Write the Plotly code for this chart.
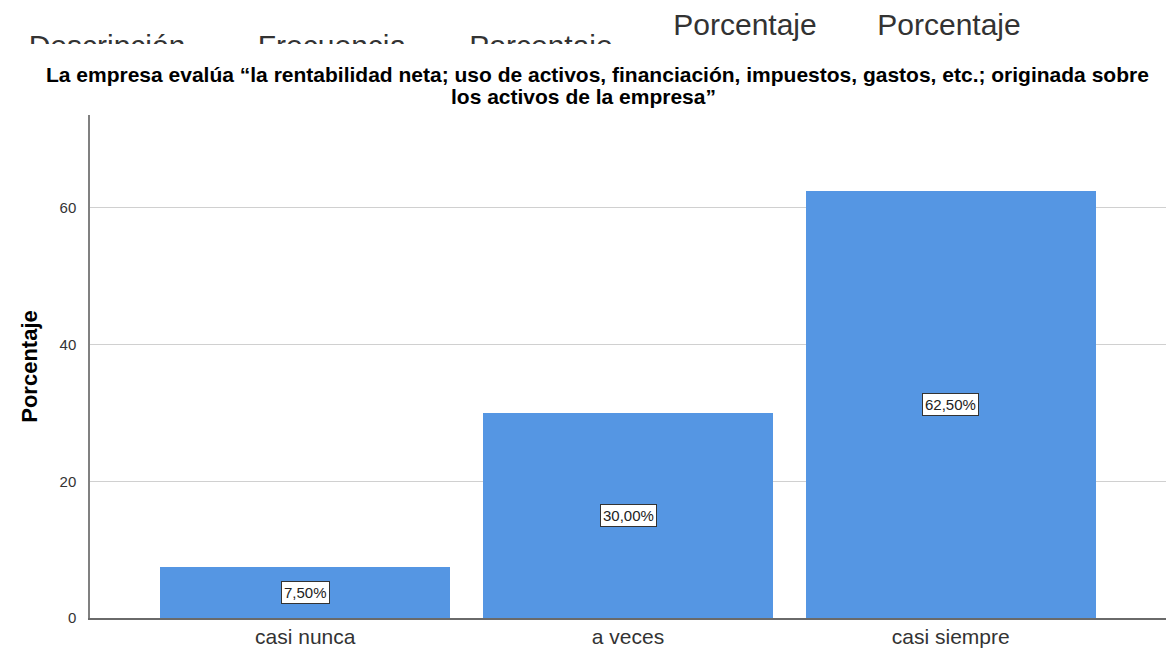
import plotly.graph_objects as go

categories = ["casi nunca", "a veces", "casi siempre"]
values = [7.5, 30.0, 62.5]
value_labels = ["7,50%", "30,00%", "62,50%"]
y_ticks = [0, 20, 40, 60]

header_words = ["Descripción", "Frecuencia", "Porcentaje", "Porcentaje", "Porcentaje"]
header_x = [107, 332, 541, 745, 949]
header_y = [48, 48, 48, 27, 27]

title_lines = [
    "La empresa evalúa “la rentabilidad neta; uso de activos, financiación, impuestos, gastos, etc.; originada sobre",
    "los activos de la empresa”",
]
title_x = [597, 583]
title_y = [75, 97]

W, H = 1168, 649
ml, mr, mt, mb = 0, 2, 0, 31
PW = W - ml - mr
PH = H - mt - mb
axis_left = 90
plot_top = 115

FONT = "Liberation Sans, Arial, sans-serif"
BLUE = "#5596e3"

fig = go.Figure()
fig.add_trace(go.Bar(
    x=list(range(len(categories))), y=values,
    marker=dict(color=BLUE, line=dict(width=0)),
    width=0.898, hoverinfo="skip", xaxis="x", yaxis="y",
))

# header text (screenshot remnants), clipped at bottom
fig.add_trace(go.Scatter(
    x=header_x, y=header_y, mode="text", text=header_words,
    textposition="middle center",
    textfont=dict(family=FONT, size=30, color="#333333"),
    cliponaxis=True, hoverinfo="skip", xaxis="x2", yaxis="y2",
))

for i, (v, lab) in enumerate(zip(values, value_labels)):
    fig.add_annotation(
        x=i, y=v / 2, xref="x", yref="y", text=lab, showarrow=False,
        font=dict(family=FONT, size=15, color="#222222"),
        bgcolor="white", bordercolor="#333333", borderwidth=1, borderpad=2,
    )

for line, tx, ty in zip(title_lines, title_x, title_y):
    fig.add_annotation(
        x=tx / PW, y=1 - ty / PH, xref="paper", yref="paper",
        text="<b>" + line + "</b>", showarrow=False, xanchor="center", yanchor="middle",
        font=dict(family=FONT, size=21, color="#000000"),
    )

fig.update_layout(
    width=W, height=H,
    margin=dict(l=ml, r=mr, t=mt, b=mb, autoexpand=False),
    paper_bgcolor="white", plot_bgcolor="white",
    showlegend=False,
    bargap=0,
    xaxis=dict(
        domain=[axis_left / PW, 1],
        range=[-0.667, 2.667],
        tickmode="array", tickvals=list(range(len(categories))), ticktext=categories,
        tickfont=dict(family=FONT, size=21, color="#333333"),
        showgrid=False, zeroline=False,
        showline=True, linecolor="#6a6a6a", linewidth=1.5,
        ticks="", ticklabelstandoff=-1, automargin=False,
    ),
    yaxis=dict(
        domain=[0, (618 - plot_top) / PH],
        range=[0, 73.6],
        tickmode="array", tickvals=y_ticks,
        tickfont=dict(family=FONT, size=15, color="#333333"),
        showgrid=True, gridcolor="#d0d0d0", gridwidth=1.3,
        zeroline=False,
        showline=True, linecolor="#808080", linewidth=1.5,
        ticks="", ticklabelstandoff=9, automargin=False,
        title=dict(text="<b>Porcentaje</b>", font=dict(family=FONT, size=22, color="#000000"), standoff=16),
    ),
    xaxis2=dict(domain=[0, 1], range=[0, PW], visible=False, fixedrange=True, anchor="y2"),
    yaxis2=dict(domain=[(618 - 44) / PH, 1], range=[44, 0], visible=False, fixedrange=True, anchor="x2"),
)

fig.write_html(
    "out.html",
    config={"displayModeBar": False},
    post_script="document.body.style.margin='0';document.body.style.overflow='hidden';",
)
